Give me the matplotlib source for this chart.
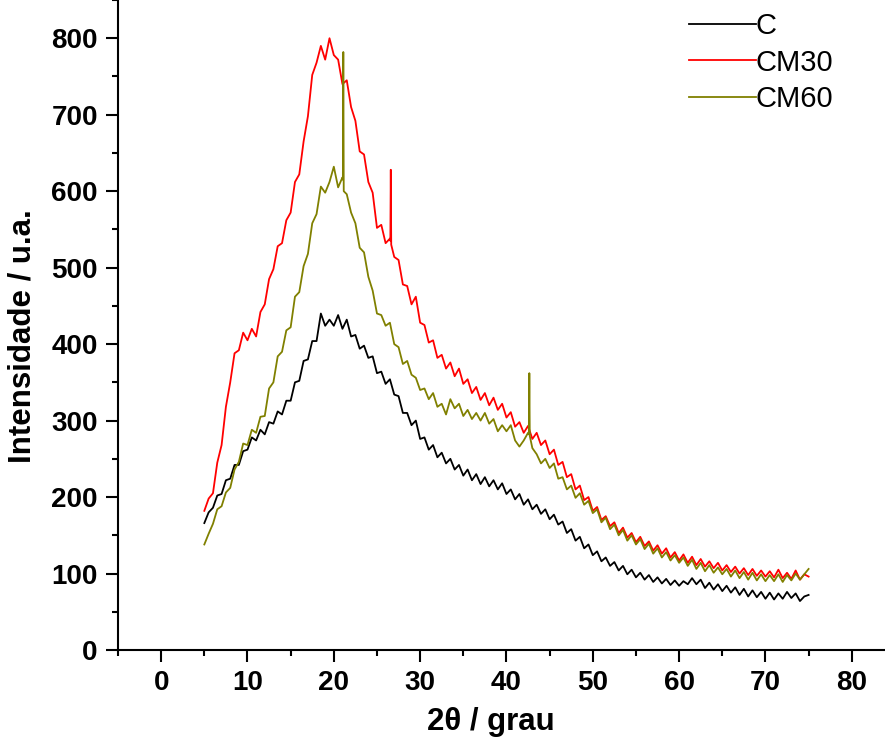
import numpy as np
import matplotlib
matplotlib.use("Agg")
import matplotlib.pyplot as plt

plt.rcParams["font.family"] = ["Liberation Sans", "DejaVu Sans"]

# 2theta grid (degrees), one reading every half degree
two_theta = np.arange(5.0, 75.01, 0.5)

intensity_c = [
    166, 180, 186, 202, 204, 222, 224, 242, 242, 260,
    262, 278, 274, 288, 282, 298, 296, 312, 308, 326,
    326, 350, 352, 378, 380, 404, 404, 440, 424, 432,
    424, 438, 420, 432, 410, 412, 394, 398, 382, 384,
    362, 364, 348, 354, 334, 332, 310, 310, 294, 300,
    276, 278, 262, 268, 252, 258, 244, 250, 236, 242,
    228, 236, 222, 230, 217, 226, 214, 222, 210, 218,
    204, 210, 197, 204, 190, 197, 184, 190, 178, 184,
    171, 177, 164, 168, 153, 158, 143, 148, 133, 138,
    124, 129, 116, 121, 110, 115, 104, 110, 99, 105,
    95, 101, 92, 98, 89, 95, 87, 93, 85, 91,
    84, 90, 86, 94, 86, 92, 81, 88, 79, 86,
    77, 84, 75, 82, 72, 80, 70, 78, 69, 76,
    67, 75, 66, 74, 67, 76, 68, 74, 64, 70,
    72,
]

intensity_cm30 = [
    182, 198, 205, 245, 268, 318, 350, 388, 392, 415,
    405, 420, 410, 442, 452, 485, 498, 528, 532, 562,
    572, 612, 622, 665, 698, 752, 768, 790, 772, 800,
    778, 772, 740, 745, 710, 692, 652, 648, 612, 598,
    552, 556, 532, 538, 514, 510, 478, 476, 452, 462,
    428, 425, 402, 405, 382, 386, 368, 376, 358, 368,
    348, 354, 336, 344, 327, 336, 320, 330, 314, 322,
    304, 311, 292, 298, 284, 293, 276, 284, 268, 274,
    256, 262, 242, 246, 226, 230, 210, 215, 196, 200,
    182, 187, 170, 175, 162, 167, 153, 160, 147, 153,
    141, 148, 136, 142, 130, 137, 126, 133, 121, 128,
    117, 125, 114, 122, 111, 119, 109, 116, 107, 114,
    104, 111, 102, 109, 100, 107, 98, 106, 97, 104,
    96, 103, 95, 105, 94, 101, 93, 104, 92, 99,
    96,
]

intensity_cm60 = [
    138, 152, 165, 184, 188, 206, 212, 236, 246, 270,
    268, 288, 284, 305, 306, 342, 350, 384, 390, 418,
    422, 462, 468, 502, 518, 558, 570, 606, 598, 612,
    632, 605, 618, 596, 572, 558, 526, 520, 488, 470,
    440, 438, 424, 428, 400, 396, 374, 378, 360, 356,
    340, 342, 328, 336, 318, 322, 308, 328, 316, 322,
    306, 314, 302, 310, 300, 310, 296, 302, 286, 294,
    286, 294, 274, 266, 274, 284, 264, 256, 244, 250,
    238, 244, 224, 226, 210, 215, 199, 205, 190, 195,
    179, 184, 167, 173, 158, 164, 150, 157, 143, 150,
    138, 145, 132, 139, 126, 133, 121, 128, 117, 124,
    114, 121, 110, 118, 106, 114, 103, 111, 101, 108,
    99, 106, 96, 104, 94, 102, 92, 101, 91, 99,
    90, 98, 90, 99, 89, 98, 91, 100, 92, 99,
    106,
]

# sharp crystalline reflections on top of the amorphous halo
spike_cm30_x = [26.55, 26.6, 26.65]
spike_cm30_y = [535, 628, 530]
spike_cm60_x = [21.05, 21.1, 21.15, 42.6, 42.65, 42.7]
spike_cm60_y = [615, 782, 600, 282, 362, 280]


def with_spikes(x, y, sx, sy):
    xs = np.concatenate([x, sx])
    ys = np.concatenate([np.asarray(y, float), sy])
    order = np.argsort(xs, kind="stable")
    return xs[order], ys[order]


fig = plt.figure(figsize=(8.85, 7.4), dpi=100)
ax = fig.add_axes([118 / 885, 90 / 740, 767 / 885, 650 / 740])

ax.plot(two_theta, intensity_c, color="black", lw=1.3, label="C")
x30, y30 = with_spikes(two_theta, intensity_cm30, spike_cm30_x, spike_cm30_y)
ax.plot(x30, y30, color="#ff0000", lw=1.3, label="CM30")
x60, y60 = with_spikes(two_theta, intensity_cm60, spike_cm60_x, spike_cm60_y)
ax.plot(x60, y60, color="#808000", lw=1.3, label="CM60")

ax.set_xlim(-5, 83.85)
ax.set_ylim(0, 850)
ax.set_xticks(range(0, 81, 10))
ax.set_xticks(range(-5, 81, 5), minor=True)
ax.set_yticks(range(0, 801, 100))
ax.set_yticks(range(0, 851, 50), minor=True)

for side in ("top", "right"):
    ax.spines[side].set_visible(False)
for side in ("left", "bottom"):
    ax.spines[side].set_linewidth(1.5)

ax.tick_params(which="major", direction="out", length=8.5, width=1.5, labelsize=20, pad=6)
ax.tick_params(which="minor", direction="out", length=4.5, width=1.5)
for lab in ax.get_xticklabels() + ax.get_yticklabels():
    lab.set_fontweight("bold")

ax.set_xlabel("2θ / grau", fontsize=22.5, fontweight="bold")
ax.set_ylabel("Intensidade / u.a.", fontsize=22.5, fontweight="bold")
ax.xaxis.set_label_coords(0.486, -0.088)
ax.yaxis.set_label_coords(-0.105, 0.483)

fig.legend(loc="upper left", bbox_to_anchor=(683 / 885, 1 - 6 / 740), frameon=False,
           fontsize=21, handlelength=2.3, handletextpad=0.0,
           labelspacing=0.3, borderpad=0.2, borderaxespad=0.0)

fig.savefig("out.png", dpi=100)
